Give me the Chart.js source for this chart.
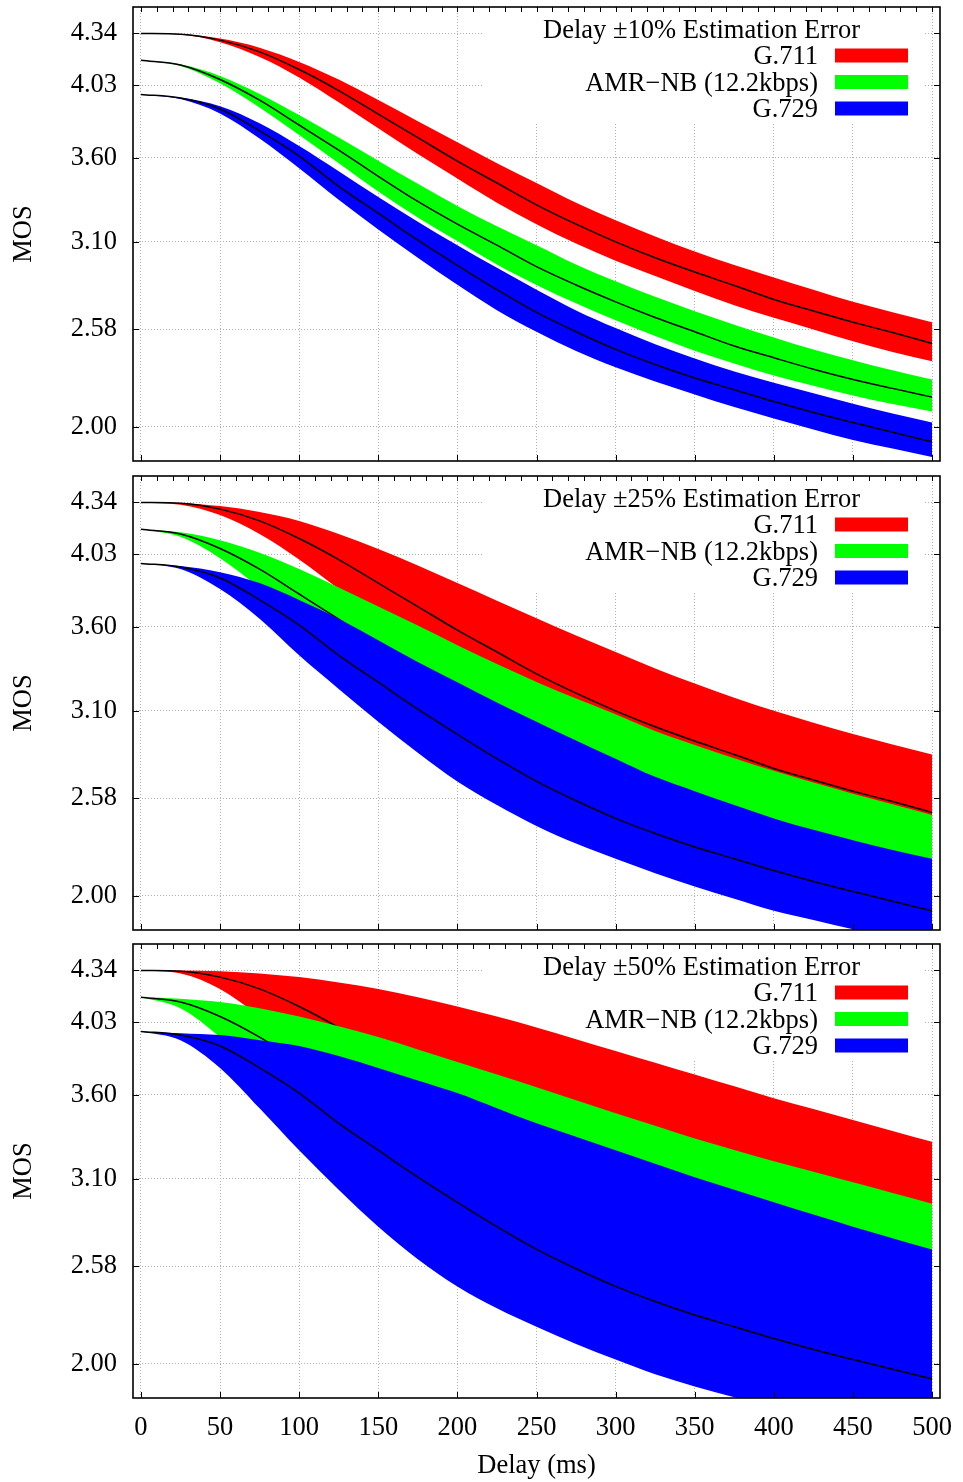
<!DOCTYPE html>
<html>
<head>
<meta charset="utf-8">
<title>MOS vs delay estimation error</title>
<script src="https://cdn.jsdelivr.net/npm/chart.js@4.4.0/dist/chart.umd.min.js"></script>
<style>
  html, body { margin: 0; padding: 0; background: #fff; }
  body { width: 963px; height: 1482px; position: relative; overflow: hidden; }
  .panel { position: absolute; left: 0; width: 963px; }
</style>
</head>
<body>
<div class="panel" style="top:0;height:469px"><canvas id="p10"></canvas></div>
<div class="panel" style="top:469px;height:469px"><canvas id="p25"></canvas></div>
<div class="panel" style="top:937px;height:545px"><canvas id="p50"></canvas></div>
<script>
// delay axis (ms) and tick labels
const delays = [0, 25, 50, 75, 100, 125, 150, 175, 200, 225, 250, 275, 300, 325, 350, 375, 400, 425, 450, 475, 500];
const xTicks = [0, 50, 100, 150, 200, 250, 300, 350, 400, 450, 500];
const yTicks = [2.00, 2.58, 3.10, 3.60, 4.03, 4.34];

const codecs = ['G.711', 'AMR\u2212NB (12.2kbps)', 'G.729'];
const codecColors = ['#ff0000', '#00ff00', '#0000ff'];
const panelTitles = ['Delay \u00b110% Estimation Error', 'Delay \u00b125% Estimation Error', 'Delay \u00b150% Estimation Error'];

// MOS at the true delay (black curves, same in every panel)
const g711Mos = [4.340, 4.335, 4.300, 4.230, 4.125, 4.000, 3.860, 3.720, 3.580, 3.450, 3.320, 3.205, 3.100, 3.005, 2.920, 2.840, 2.757, 2.688, 2.622, 2.560, 2.495];
const amrMos  = [4.180, 4.152, 4.066, 3.943, 3.795, 3.645, 3.490, 3.340, 3.205, 3.080, 2.952, 2.843, 2.743, 2.650, 2.565, 2.480, 2.410, 2.342, 2.281, 2.228, 2.176];
const g729Mos = [3.977, 3.955, 3.890, 3.760, 3.610, 3.430, 3.270, 3.110, 2.960, 2.815, 2.680, 2.565, 2.460, 2.370, 2.290, 2.220, 2.150, 2.085, 2.025, 1.967, 1.910];

// +-10% error band
const g711Hi10 = [4.340, 4.336, 4.309, 4.255, 4.170, 4.065, 3.944, 3.818, 3.692, 3.567, 3.450, 3.332, 3.228, 3.132, 3.043, 2.962, 2.888, 2.815, 2.743, 2.681, 2.622];
const g711Lo10 = [4.340, 4.333, 4.288, 4.200, 4.078, 3.930, 3.776, 3.622, 3.476, 3.332, 3.205, 3.090, 2.988, 2.896, 2.807, 2.722, 2.648, 2.579, 2.508, 2.445, 2.390];
const amrHi10  = [4.180, 4.156, 4.087, 3.980, 3.854, 3.720, 3.583, 3.445, 3.313, 3.192, 3.080, 2.965, 2.865, 2.773, 2.687, 2.607, 2.531, 2.459, 2.396, 2.336, 2.281];
const amrLo10  = [4.180, 4.146, 4.043, 3.899, 3.735, 3.568, 3.400, 3.245, 3.105, 2.965, 2.843, 2.734, 2.633, 2.539, 2.452, 2.376, 2.305, 2.244, 2.186, 2.135, 2.090];
const g729Hi10 = [3.977, 3.958, 3.906, 3.805, 3.670, 3.520, 3.366, 3.220, 3.080, 2.945, 2.815, 2.692, 2.587, 2.490, 2.406, 2.328, 2.262, 2.199, 2.137, 2.079, 2.025];
const g729Lo10 = [3.977, 3.950, 3.864, 3.715, 3.538, 3.350, 3.174, 3.005, 2.844, 2.693, 2.565, 2.451, 2.354, 2.269, 2.192, 2.117, 2.049, 1.984, 1.921, 1.870, 1.820];

// +-25% error band
const g711Hi25 = [4.340, 4.337, 4.318, 4.283, 4.230, 4.152, 4.063, 3.965, 3.860, 3.755, 3.650, 3.548, 3.450, 3.352, 3.262, 3.178, 3.100, 3.029, 2.962, 2.900, 2.840];
const g711Lo25 = [4.340, 4.326, 4.265, 4.152, 4.000, 3.825, 3.650, 3.483, 3.320, 3.178, 3.052, 2.941, 2.840, 2.740, 2.655, 2.575, 2.495, 2.428, 2.365, 2.300, 2.250];
const amrHi25  = [4.180, 4.162, 4.115, 4.040, 3.943, 3.833, 3.720, 3.607, 3.490, 3.378, 3.272, 3.173, 3.080, 2.980, 2.897, 2.818, 2.743, 2.673, 2.607, 2.544, 2.480];
const amrLo25  = [4.180, 4.135, 4.008, 3.833, 3.645, 3.452, 3.272, 3.111, 2.952, 2.818, 2.696, 2.586, 2.480, 2.393, 2.311, 2.241, 2.176, 2.120, 2.070, 2.020, 1.975];
const g729Hi25 = [3.977, 3.962, 3.925, 3.860, 3.760, 3.648, 3.520, 3.390, 3.270, 3.150, 3.035, 2.924, 2.815, 2.707, 2.622, 2.539, 2.460, 2.392, 2.330, 2.272, 2.220];
const g729Lo25 = [3.977, 3.944, 3.825, 3.648, 3.430, 3.230, 3.035, 2.851, 2.680, 2.539, 2.415, 2.310, 2.220, 2.134, 2.055, 1.982, 1.910, 1.855, 1.800, 1.750, 1.700];

// +-50% error band
const g711Hi50 = [4.340, 4.339, 4.335, 4.322, 4.300, 4.268, 4.230, 4.180, 4.125, 4.065, 4.000, 3.930, 3.860, 3.790, 3.720, 3.650, 3.580, 3.515, 3.450, 3.385, 3.320];
const g711Lo50 = [4.340, 4.322, 4.230, 4.065, 3.860, 3.650, 3.450, 3.262, 3.100, 2.962, 2.840, 2.722, 2.622, 2.527, 2.440, 2.365, 2.290, 2.230, 2.170, 2.110, 2.060];
const amrHi50  = [4.180, 4.172, 4.152, 4.115, 4.066, 4.008, 3.943, 3.870, 3.795, 3.720, 3.645, 3.568, 3.490, 3.415, 3.340, 3.272, 3.205, 3.142, 3.080, 3.016, 2.952];
const amrLo50  = [4.180, 4.115, 3.943, 3.720, 3.490, 3.272, 3.080, 2.897, 2.743, 2.607, 2.480, 2.376, 2.281, 2.202, 2.130, 2.070, 2.010, 1.957, 1.910, 1.865, 1.820];
const g729Hi50 = [3.977, 3.966, 3.955, 3.925, 3.890, 3.830, 3.760, 3.685, 3.610, 3.520, 3.430, 3.350, 3.270, 3.190, 3.110, 3.035, 2.960, 2.887, 2.815, 2.747, 2.680];
const g729Lo50 = [3.977, 3.925, 3.760, 3.520, 3.270, 3.035, 2.815, 2.622, 2.460, 2.330, 2.220, 2.117, 2.025, 1.938, 1.865, 1.800, 1.740, 1.680, 1.630, 1.580, 1.520];

Chart.defaults.font.family = '"Liberation Serif", "Times New Roman", serif';
Chart.defaults.font.size = 26.5;
Chart.defaults.color = '#000';

const FONT = '26.5px "Liberation Serif", "Times New Roman", serif';

// frame, inward ticks and the key box in the upper right
const panelDecor = {
  id: 'panelDecor',
  beforeDatasetsDraw(chart) {
    const { ctx, chartArea: a } = chart;
    ctx.save();
    ctx.fillStyle = '#fff';
    ctx.fillRect(483, a.top + 1, 442, 115);
    ctx.restore();
  },
  afterDatasetsDraw(chart, args, opts) {
    const { ctx, chartArea: a } = chart;
    const x = chart.scales.x, y = chart.scales.y;
    ctx.save();
    ctx.strokeStyle = '#000';
    ctx.lineWidth = 1;
    ctx.beginPath();
    for (let v = 0; v <= 500; v += 10) {
      const px = Math.round(x.getPixelForValue(v)) + 0.5;
      ctx.moveTo(px, a.top); ctx.lineTo(px, a.top + 5);
    }
    xTicks.forEach(v => {
      const px = Math.round(x.getPixelForValue(v)) + 0.5;
      ctx.moveTo(px, a.bottom); ctx.lineTo(px, a.bottom - 6);
    });
    yTicks.forEach(v => {
      const py = Math.round(y.getPixelForValue(v)) + 0.5;
      ctx.moveTo(a.left, py); ctx.lineTo(a.left + 6, py);
      ctx.moveTo(a.right, py); ctx.lineTo(a.right - 6, py);
    });
    ctx.stroke();
    ctx.lineWidth = 1.6;
    ctx.strokeRect(a.left, a.top, a.right - a.left, a.bottom - a.top);

    // key
    ctx.font = FONT;
    ctx.fillStyle = '#000';
    ctx.textBaseline = 'alphabetic';
    ctx.textAlign = 'left';
    ctx.fillText(opts.title, 543, a.top + 30.5);
    ctx.textAlign = 'right';
    codecs.forEach((name, i) => {
      const base = a.top + 57 + i * 26.5;
      ctx.fillStyle = '#000';
      ctx.fillText(name, 818, base);
      ctx.fillStyle = codecColors[i];
      ctx.fillRect(835, base - 15.5, 73, 14);
    });
    ctx.restore();
  }
};

function pts(arr) {
  return delays.map((d, i) => ({ x: d, y: arr[i] }));
}

function buildDatasets(hi, lo) {
  const centers = [g711Mos, amrMos, g729Mos];
  const ds = [];
  codecs.forEach((name, c) => {
    const w = (3 - c) * 3; // higher weight is painted first
    ds.push({ label: name, data: pts(hi[c]), fill: '+1', backgroundColor: codecColors[c],
              borderColor: 'rgba(0,0,0,0)', borderWidth: 0, order: w });
    ds.push({ label: name + ' low', data: pts(lo[c]), fill: false,
              borderColor: 'rgba(0,0,0,0)', borderWidth: 0, order: w - 1 });
    ds.push({ label: name + ' mean', data: pts(centers[c]), fill: false,
              borderColor: '#000', borderWidth: 1.5, order: w - 2 });
  });
  return ds;
}

function makePanel(id, title, hi, lo, last) {
  const axisH = last ? 84 : 8;
  new Chart(document.getElementById(id), {
    type: 'line',
    data: { datasets: buildDatasets(hi, lo) },
    plugins: [panelDecor],
    options: {
      responsive: true,
      maintainAspectRatio: false,
      animation: false,
      events: [],
      layout: { padding: { top: 7, right: 23, left: 0, bottom: 0 } },
      elements: {
        point: { radius: 0 },
        line: { cubicInterpolationMode: 'monotone' }
      },
      plugins: {
        legend: { display: false },
        tooltip: { enabled: false },
        panelDecor: { title: title }
      },
      scales: {
        x: {
          type: 'linear', min: -5, max: 505,
          afterBuildTicks: s => { s.ticks = xTicks.map(v => ({ value: v })); },
          afterFit: s => { s.height = axisH; s.paddingLeft = 0; s.paddingRight = 0; },
          grid: { color: '#b0b0b0', lineWidth: 1, drawTicks: false },
          border: { display: false, dash: [1, 2] },
          ticks: { display: last, padding: 14, autoSkip: false, maxRotation: 0 },
          title: { display: last, text: 'Delay (ms)', padding: { top: 0, bottom: 0 } }
        },
        y: {
          min: 1.796, max: 4.497,
          afterBuildTicks: s => { s.ticks = yTicks.map(v => ({ value: v })); },
          afterFit: s => { s.width = 133; s.paddingTop = 0; s.paddingBottom = 0; },
          grid: { color: '#b0b0b0', lineWidth: 1, drawTicks: false },
          border: { display: false, dash: [1, 2] },
          ticks: { padding: 16, callback: v => Number(v).toFixed(2) },
          title: { display: true, text: 'MOS', padding: { top: 8, bottom: 0 } }
        }
      }
    }
  });
}

makePanel('p10', panelTitles[0], [g711Hi10, amrHi10, g729Hi10], [g711Lo10, amrLo10, g729Lo10], false);
makePanel('p25', panelTitles[1], [g711Hi25, amrHi25, g729Hi25], [g711Lo25, amrLo25, g729Lo25], false);
makePanel('p50', panelTitles[2], [g711Hi50, amrHi50, g729Hi50], [g711Lo50, amrLo50, g729Lo50], true);
</script>
</body>
</html>
